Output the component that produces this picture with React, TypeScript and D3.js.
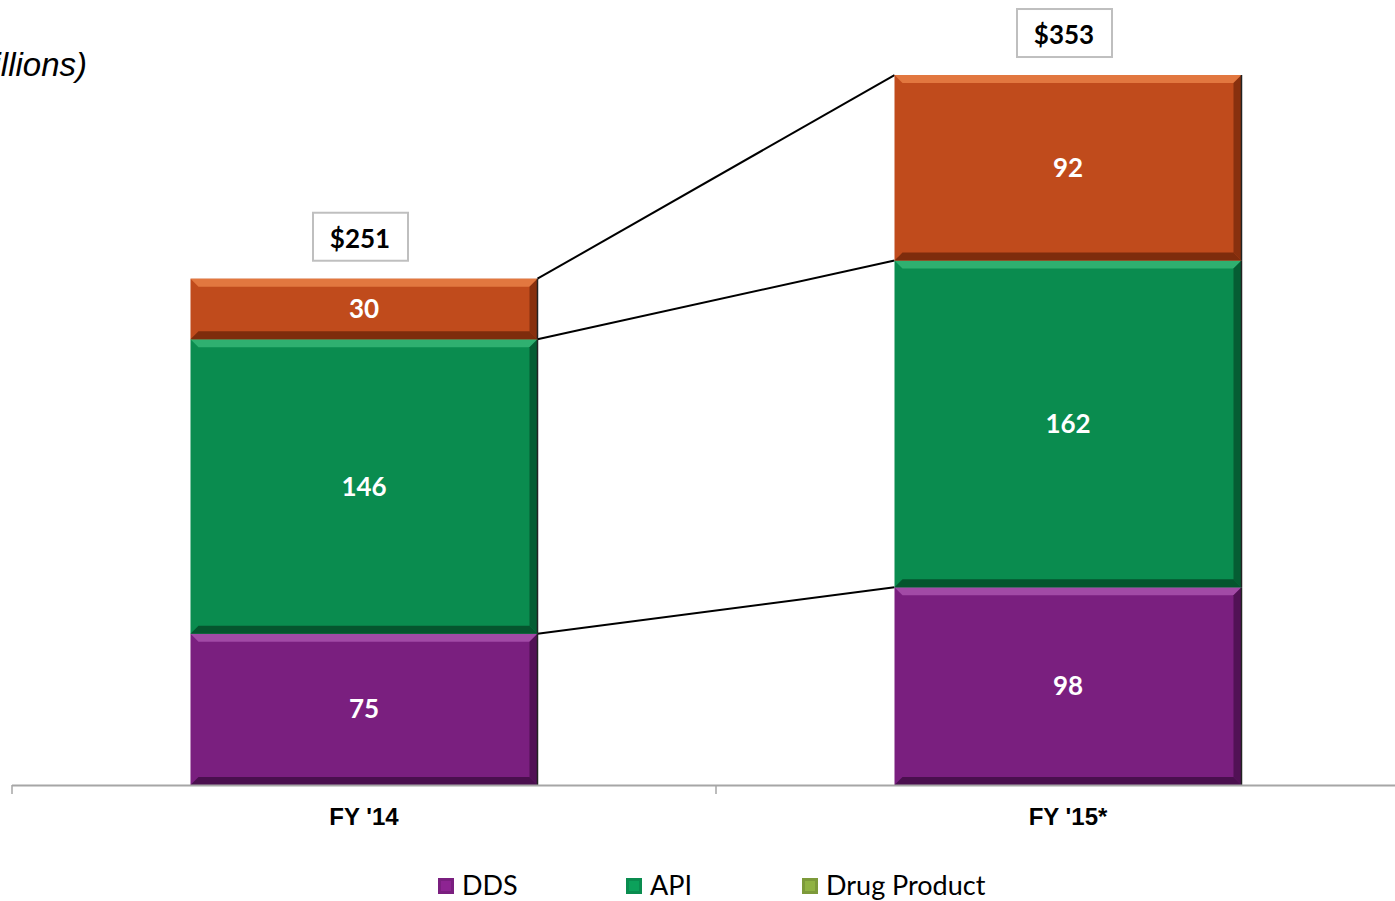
import React from "react";
import * as d3 from "d3";

const categories = ["FY '14", "FY '15*"];
const seriesNames = ["DDS", "API", "Drug Product"];
const ddsValues = [75, 98];
const apiValues = [146, 162];
const drugProductValues = [30, 92];
const totalLabels = ["$251", "$353"];

const colors = {
  DDS: { base: "#7a1f7f", light: "#a24aa6", dark: "#4a0f4e" },
  API: { base: "#0a8c4f", light: "#2fb070", dark: "#05552e" },
  "Drug Product": { base: "#c04b1c", light: "#e2773f", dark: "#7e2c0c" },
};
const legendColors = ["#7a1f7f", "#0a8c4f", "#7d9a3a"];

const W = 1395;
const H = 901;

export default function App() {
  const x = d3.scaleBand<string>().domain(categories).range([12, 1420]).paddingInner(0).paddingOuter(0);
  const y = d3.scaleLinear().domain([0, 353]).range([785, 73]);
  const barW = 347;

  const stackData = categories.map((c, i) => ({
    cat: c,
    DDS: ddsValues[i],
    API: apiValues[i],
    "Drug Product": drugProductValues[i],
  }));
  const stack = d3.stack<any>().keys(seriesNames)(stackData);

  const bev = 8;
  const segs: any[] = [];
  stack.forEach((layer) => {
    const key = layer.key as keyof typeof colors;
    layer.forEach((d, i) => {
      const cx = (x(categories[i]) as number) + x.bandwidth() / 2;
      const x0 = cx - barW / 2;
      const x1 = cx + barW / 2;
      const yt = y(d[1]);
      const yb = y(d[0]);
      segs.push({ key, x0, x1, yt, yb, cx, value: d[1] - d[0], i });
    });
  });

  const connectors: any[] = [];
  stack.forEach((layer) => {
    const a = layer[0];
    const b = layer[1];
    const ax = (x(categories[0]) as number) + x.bandwidth() / 2 + barW / 2;
    const bx = (x(categories[1]) as number) + x.bandwidth() / 2 - barW / 2;
    connectors.push({ x1: ax, y1: y(a[1]), x2: bx, y2: y(b[1]) });
  });

  const totals = categories.map((c, i) => ({
    cx: (x(c) as number) + x.bandwidth() / 2,
    total: ddsValues[i] + apiValues[i] + drugProductValues[i],
    label: totalLabels[i],
  }));

  const calibri = "Lato, 'Open Sans', sans-serif";
  const legendX = [438, 626, 802];

  return (
    <svg width={W} height={H} style={{ position: "absolute", left: 0, top: 0, background: "#fff" }}>
      <text x={87} y={76} textAnchor="end" fontFamily="'Liberation Sans', Arial, sans-serif" fontStyle="italic" fontSize={33} fill="#000">
        ($ in millions)
      </text>

      {connectors.map((c, k) => (
        <line key={k} x1={c.x1} y1={c.y1} x2={c.x2} y2={c.y2} stroke="#000" strokeWidth={2} />
      ))}

      {segs.map((s, k) => {
        const col = colors[s.key as keyof typeof colors];
        const { x0, x1, yt, yb } = s;
        return (
          <g key={k}>
            <rect x={x0} y={yt} width={x1 - x0} height={yb - yt} fill={col.base} />
            <polygon points={`${x0},${yt} ${x1},${yt} ${x1 - bev},${yt + bev} ${x0 + bev},${yt + bev}`} fill={col.light} />
            <polygon points={`${x1},${yt} ${x1},${yb} ${x1 - bev},${yb - bev} ${x1 - bev},${yt + bev}`} fill={col.dark} opacity={0.85} />
            <polygon points={`${x0},${yb} ${x1},${yb} ${x1 - bev},${yb - bev} ${x0 + bev},${yb - bev}`} fill={col.dark} />
            <line x1={x1} y1={yt} x2={x1} y2={yb} stroke="#222" strokeWidth={1.5} />
            <text x={s.cx} y={(yt + yb) / 2} dy="0.35em" textAnchor="middle" fontFamily={calibri} fontWeight={700} fontSize={26} fill="#fff">
              {s.value}
            </text>
          </g>
        );
      })}

      {totals.map((t, k) => (
        <g key={k}>
          <rect x={t.cx - 51} y={y(t.total) - 66} width={95} height={48} fill="#fff" stroke="#bfbfbf" strokeWidth={2} />
          <text x={t.cx - 4} y={y(t.total) - 40} dy="0.35em" textAnchor="middle" fontFamily={calibri} fontWeight={700} fontSize={26} fill="#000">
            {t.label}
          </text>
        </g>
      ))}

      <line x1={12} y1={785.5} x2={W} y2={785.5} stroke="#a6a6a6" strokeWidth={2} />
      {[12, 716].map((tx, k) => (
        <line key={k} x1={tx} y1={785} x2={tx} y2={794} stroke="#a6a6a6" strokeWidth={1.5} />
      ))}
      {categories.map((c, k) => (
        <text key={k} x={(x(c) as number) + x.bandwidth() / 2} y={825} textAnchor="middle" fontFamily="'Liberation Sans Narrow', 'Liberation Sans', Arial, sans-serif" fontWeight={700} fontSize={24} fill="#000">
          {c}
        </text>
      ))}

      {seriesNames.map((n, k) => (
        <g key={k}>
          <rect x={legendX[k]} y={878} width={16} height={16} fill={legendColors[k]} />
          <rect x={legendX[k] + 3} y={881} width={10} height={10} fill={d3.color(legendColors[k])!.brighter(0.4).toString()} />
          <text x={legendX[k] + 24} y={895} fontFamily={calibri} fontSize={27} fill="#000">
            {n}
          </text>
        </g>
      ))}
    </svg>
  );
}
